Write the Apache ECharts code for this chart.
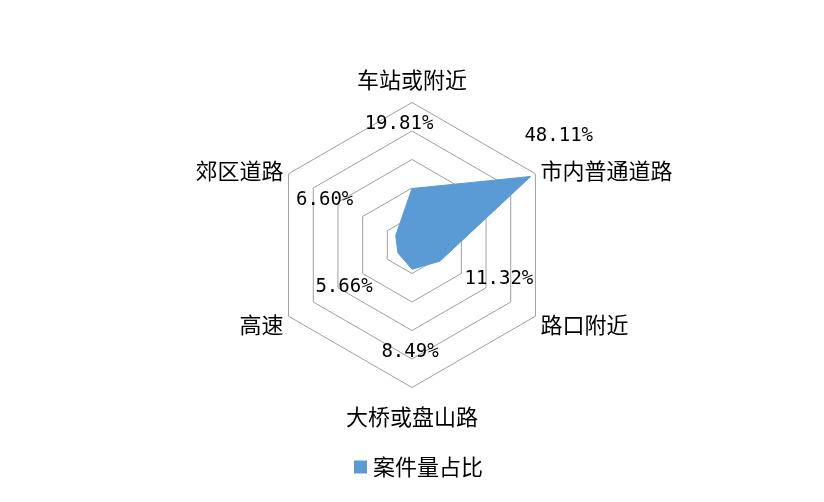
<!DOCTYPE html>
<html><head><meta charset="utf-8">
<script src="https://cdn.jsdelivr.net/npm/echarts@6/dist/echarts.min.js"></script>
<style>html,body{margin:0;padding:0;background:#fff}#c{width:824px;height:502px}</style>
</head><body><div id="c"></div>
<script>
// categories in clockwise order starting from the top
const categories = ['车站或附近', '市内普通道路', '路口附近', '大桥或盘山路', '高速', '郊区道路'];
const shares = [19.81, 48.11, 11.32, 8.49, 5.66, 6.60];
const seriesName = '案件量占比';
const axisMax = 50;

// layout
const CX = 412, CY = 245, R = 142.5;
const labelOffsets = [[-13, -64], [28, -40], [59, 18], [-2, 83], [-54, 34], [-71, -36]];
const nameStyleKeys = ['top', 'side', 'low', 'bottom', 'low', 'side'];

// ECharts radar runs counter-clockwise: keep first, reverse the rest
const order = [0].concat(categories.map((_, i) => i).slice(1).reverse());
const indicators = order.map(i => ({ name: categories[i], max: axisMax }));
const values = order.map(i => shares[i]);

const cjk = '"Noto Sans CJK SC", "Noto Sans", sans-serif';
const base = { fontSize: 22, fontFamily: cjk, color: '#000' };

const graphics = shares.map((v, i) => {
  const ang = Math.PI / 2 - i * Math.PI / 3;
  const r = v / axisMax * R;
  const x = CX + r * Math.cos(ang) + labelOffsets[i][0];
  const y = CY - r * Math.sin(ang) + labelOffsets[i][1];
  return {
    type: 'text', x: x, y: y, z: 10,
    style: { text: v.toFixed(2) + '%', fill: '#000', font: '19px "DejaVu Sans Mono", monospace', textAlign: 'center', textVerticalAlign: 'middle' }
  };
});

const chart = echarts.init(document.getElementById('c'), null, { renderer: 'canvas' });
chart.setOption({
  animation: false,
  backgroundColor: '#fff',
  legend: {
    data: [seriesName], left: 349, top: 451, icon: 'rect', itemWidth: 13, itemHeight: 13, itemGap: 10,
    textStyle: { fontSize: 22, fontFamily: cjk, color: '#000', padding: [0, 0, 0, 1] }
  },
  radar: {
    center: [CX, CY], radius: R, shape: 'polygon', splitNumber: 5, startAngle: 90,
    indicator: indicators,
    nameGap: 6,
    axisName: {
      color: '#000', fontSize: 22, fontFamily: cjk,
      formatter: function (name) { return '{' + nameStyleKeys[categories.indexOf(name)] + '|' + name + '}'; },
      rich: {
        top: Object.assign({ padding: [0, 0, 6, 0] }, base),
        side: Object.assign({ padding: [0, 0, 0, 0] }, base),
        low: Object.assign({ padding: [10, 0, 0, 0] }, base),
        bottom: Object.assign({ padding: [12, 0, 0, 0] }, base)
      }
    },
    axisLine: { show: false },
    axisTick: { show: false },
    axisLabel: { show: false },
    splitArea: { show: false },
    splitLine: { lineStyle: { color: '#a0a0a0', width: 1 } }
  },
  series: [{
    type: 'radar', name: seriesName, symbol: 'none',
    itemStyle: { color: '#5b9bd5' },
    lineStyle: { color: '#5b9bd5', width: 1 },
    areaStyle: { color: '#5b9bd5', opacity: 1 },
    data: [{ value: values, name: seriesName }]
  }],
  graphic: graphics
});
</script></body></html>
